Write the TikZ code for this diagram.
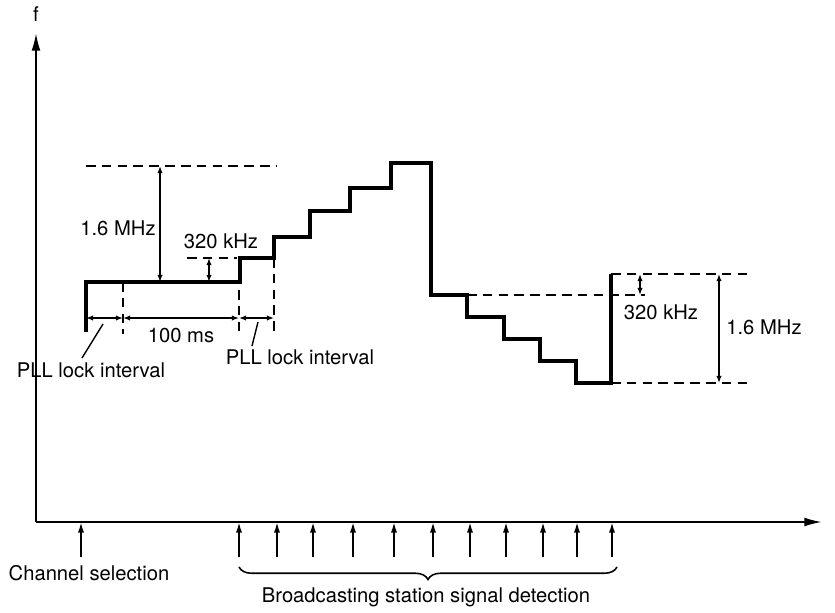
\documentclass[tikz,border=0pt]{standalone}
\usepackage{fontspec}
\setmainfont{TeX Gyre Heros}
\usetikzlibrary{arrows.meta,decorations.pathreplacing,calc,positioning}
\tikzset{
    axis/.style = {-{Latex[length=10pt,width=5pt]}, line width=1.1pt},
    stair/.style = {line width=1.8pt, line join=miter},
    guide/.style = {dash pattern=on 5.5pt off 3.5pt, line width=1pt},
    dim/.style = {{Latex[length=4pt,width=3pt]}-{Latex[length=4pt,width=3pt]}, line width=0.8pt},
    pulse/.style = {-{Latex[length=6pt,width=3.5pt]}, line width=1pt},
    txt/.style = {font=\fontsize{11.5}{13}\selectfont, inner sep=1pt}
}

\begin{document}
\begin{tikzpicture}[x=0.02cm, y=-0.02cm]
  \useasboundingbox (0,0) rectangle (835,612);

  % axes
  \coordinate (O) at (36,522);
  \coordinate (ytop) at (36,33);
  \coordinate (xend) at (822,522);
  \draw[axis] (O) -- (ytop);
  \draw[axis] (O) -- (xend);
  \node (f) at (36,14) [txt] {f};

  % frequency staircase
  \draw[stair] (86,332) -- (86,282) -- (240,282) -- (240,258) -- (274,258)
    -- (274,237) -- (310,237) -- (310,211) -- (350,211) -- (350,188)
    -- (391,188) -- (391,163) -- (431,163) -- (431,295) -- (467,295)
    -- (467,317) -- (504,317) -- (504,339) -- (540,339) -- (540,361)
    -- (576,361) -- (576,383) -- (611,383) -- (611,274);

  % left dimensions
  \draw[guide] (86,166) -- (276,166);
  \draw[guide] (187,258) -- (237,258);
  \draw[dim] (160,166) -- (160,282);
  \node (bigL) at (118,228) [txt] {1.6 MHz};
  \draw[dim] (209,258) -- (209,282);
  \node (smallL) at (221,241) [txt] {320 kHz};

  % lock intervals
  \draw[guide] (123,282) -- (123,334);
  \draw[guide] (239,290) -- (239,334);
  \draw[guide] (274,258) -- (274,334);
  \draw[dim] (86,318) -- (123,318);
  \draw[dim] (123,318) -- (239,318);
  \draw[dim] (239,318) -- (274,318);
  \node (ms) at (181,335) [txt] {100 ms};
  \node (pllA) at (91,370) [txt] {PLL lock interval};
  \node (pllB) at (300,357) [txt] {PLL lock interval};
  \draw[line width=0.8pt] (82,358) -- (103,324);
  \draw[line width=0.8pt] (252,346) -- (258,322);

  % right dimensions
  \draw[guide] (467,295) -- (645,295);
  \draw[guide] (611,274) -- (747,274);
  \draw[guide] (611,383) -- (753,383);
  \draw[dim] (640,274) -- (640,295);
  \node (smallR) at (661,312) [txt] {320 kHz};
  \draw[dim] (719,274) -- (719,383);
  \node (bigR) at (764,327) [txt] {1.6 MHz};

  % events on the time axis
  \coordinate (ch) at (81,557);
  \draw[pulse] (ch) -- (ch |- O);
  \node (chL) at (89,573) [txt] {Channel selection};
  \foreach \x in {239,277,313,353,394,433,470,506,543,577,612}
    \draw[pulse] (\x,557) -- (\x,522);
  \draw[line width=0.9pt, decorate, decoration={brace, mirror, amplitude=0.25cm}]
    (239,567) -- (617,567);
  \node (bcL) at (426,597) [txt] {Broadcasting station signal detection};
\end{tikzpicture}
\end{document}
